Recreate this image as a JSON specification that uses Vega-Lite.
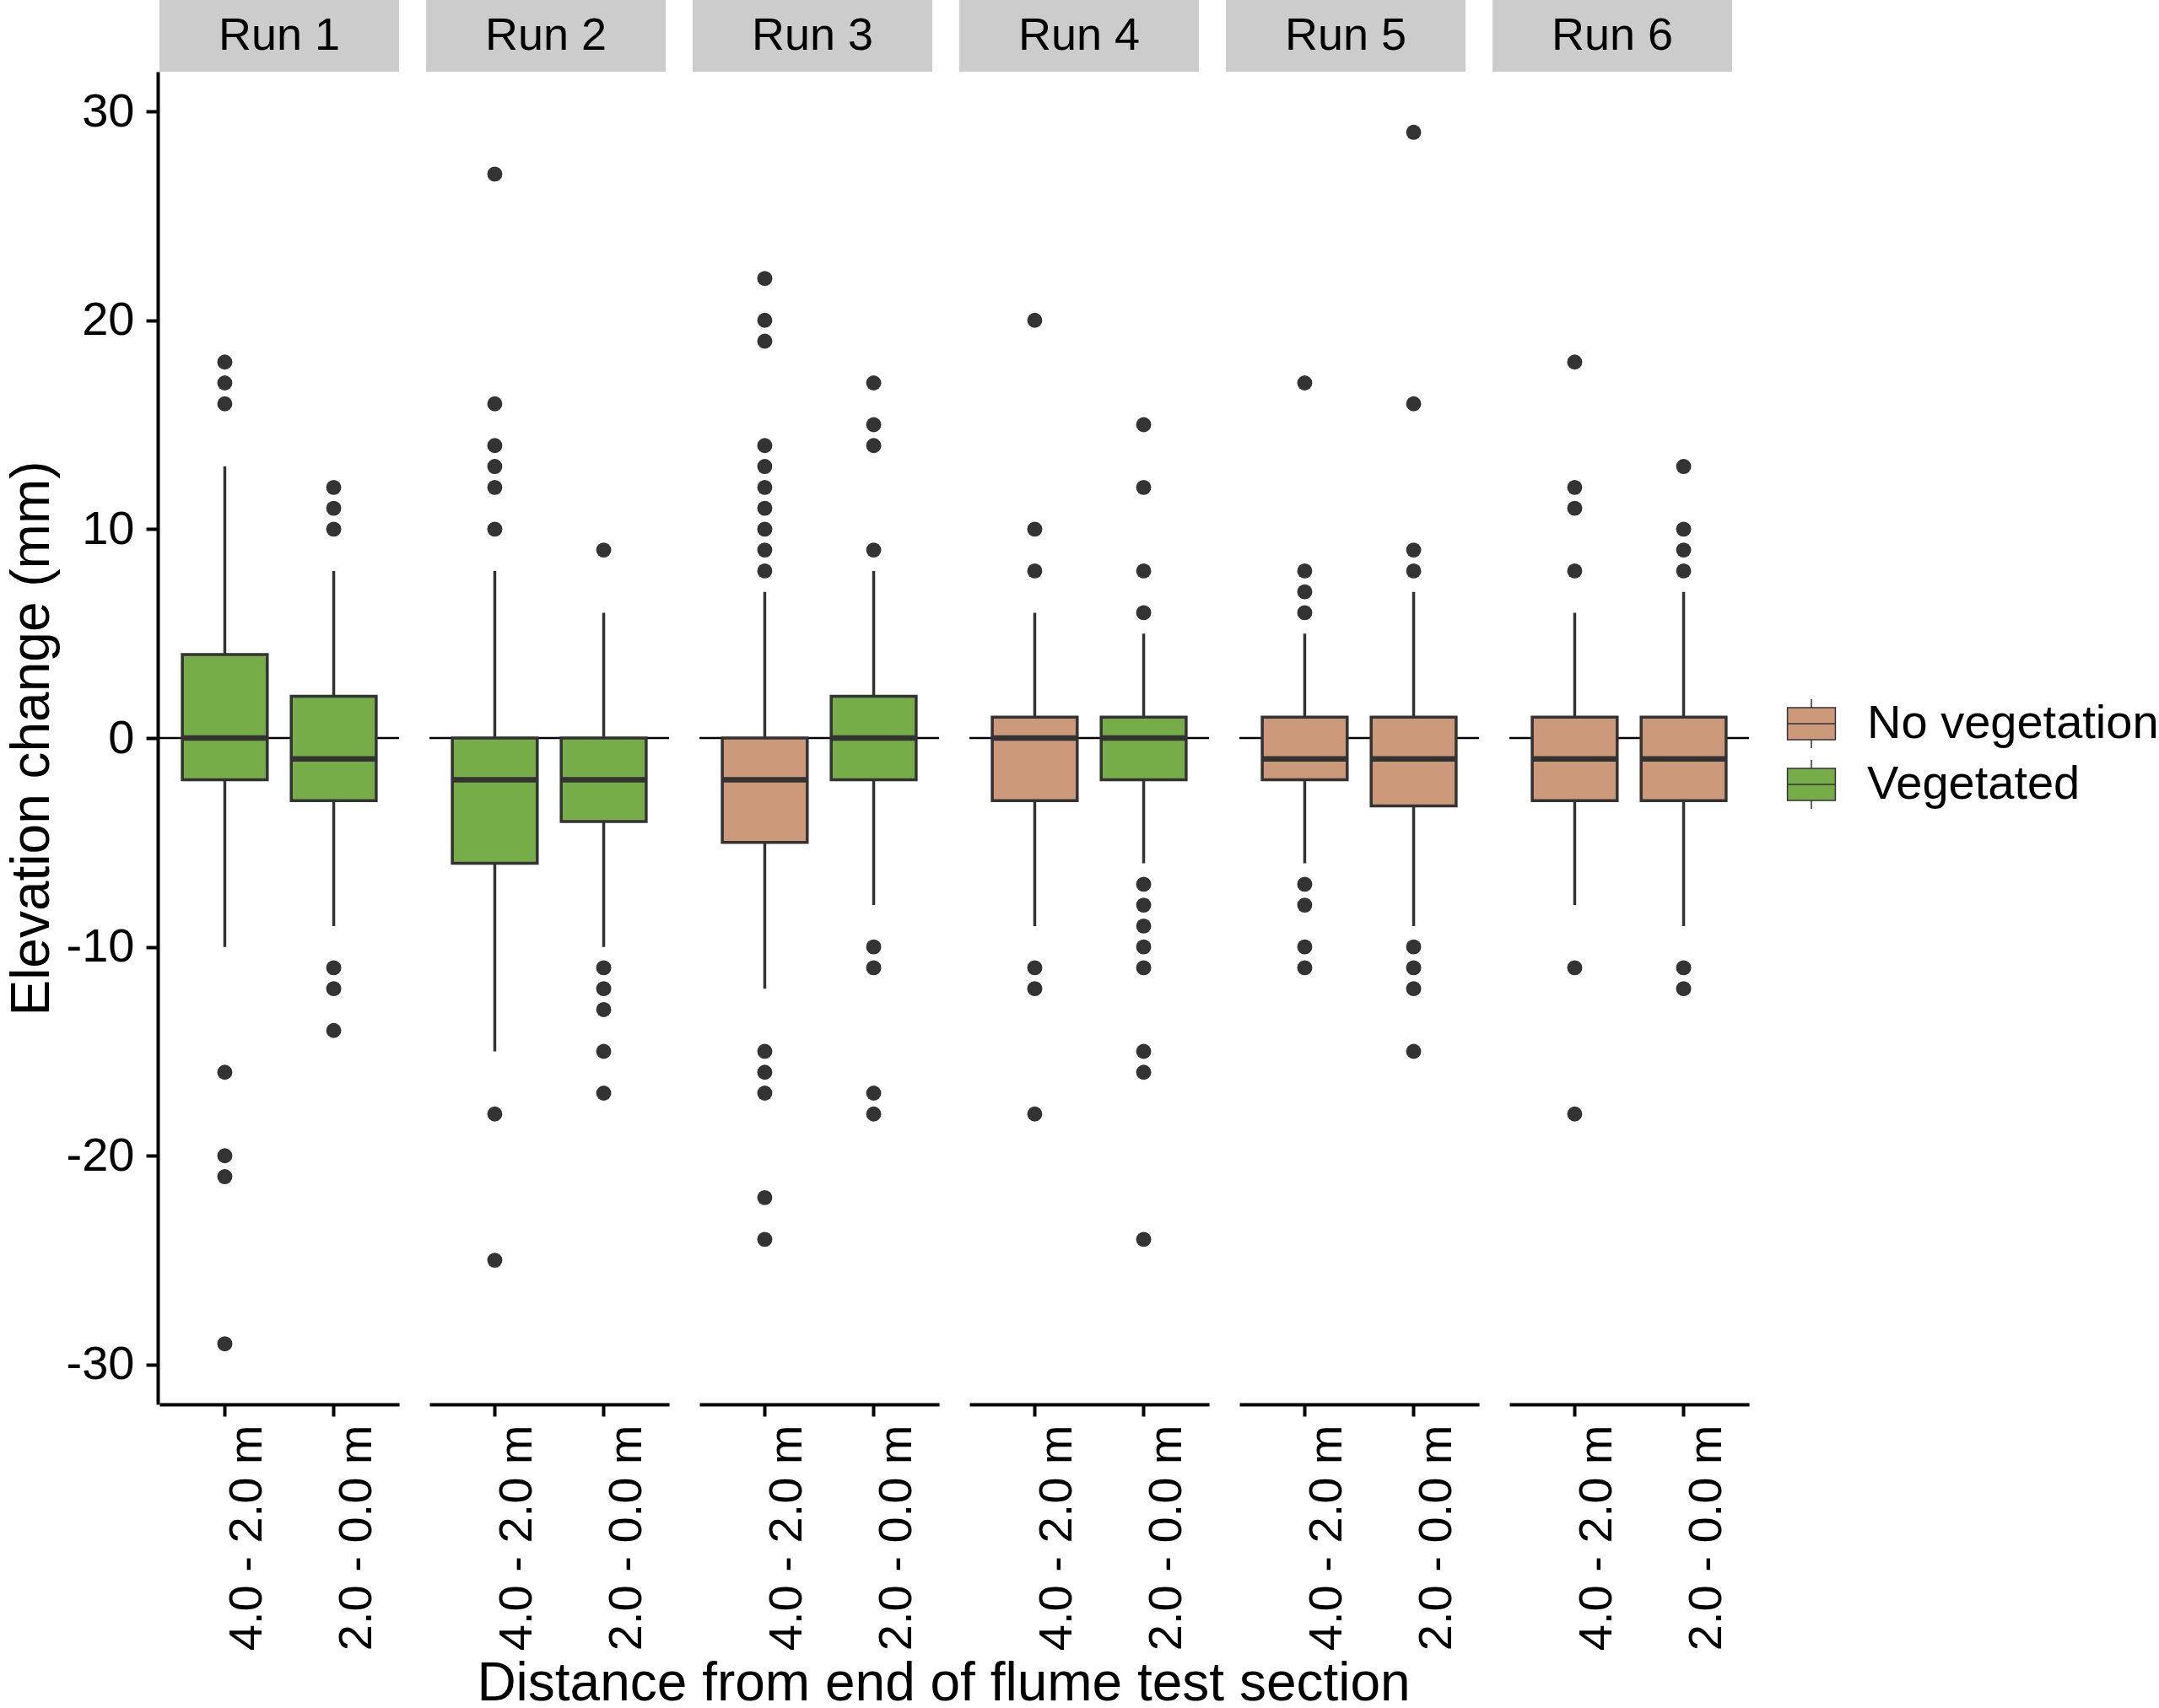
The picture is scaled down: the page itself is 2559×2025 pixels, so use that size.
{
  "$schema": "https://vega.github.io/schema/vega-lite/v6.json",
  "description": "Elevation change by run and distance from end of flume test section",
  "background": "white",
  "padding": {"left": 6, "top": 0, "right": 0, "bottom": 0},
  "config": {
    "font": "Liberation Sans",
    "view": {"stroke": null},
    "axis": {
      "grid": false,
      "domainColor": "black",
      "domainWidth": 4,
      "tickColor": "black",
      "tickWidth": 4,
      "tickSize": 14,
      "labelFontSize": 56,
      "labelColor": "black",
      "labelPadding": 14,
      "labelLimit": 500,
      "titleFontSize": 64,
      "titleFontWeight": "normal",
      "titleColor": "black"
    }
  },
  "datasets": {
    "runs": [
      {"run": "Run 1"}, {"run": "Run 2"}, {"run": "Run 3"},
      {"run": "Run 4"}, {"run": "Run 5"}, {"run": "Run 6"}
    ],
    "boxes": [
      {"run": "Run 1", "pos": "4.0 - 2.0 m", "veg": "Vegetated", "lo": -10, "q1": -2, "med": 0, "q3": 4, "hi": 13},
      {"run": "Run 1", "pos": "2.0 - 0.0 m", "veg": "Vegetated", "lo": -9, "q1": -3, "med": -1, "q3": 2, "hi": 8},
      {"run": "Run 2", "pos": "4.0 - 2.0 m", "veg": "Vegetated", "lo": -15, "q1": -6, "med": -2, "q3": 0, "hi": 8},
      {"run": "Run 2", "pos": "2.0 - 0.0 m", "veg": "Vegetated", "lo": -10, "q1": -4, "med": -2, "q3": 0, "hi": 6},
      {"run": "Run 3", "pos": "4.0 - 2.0 m", "veg": "No vegetation", "lo": -12, "q1": -5, "med": -2, "q3": 0, "hi": 7},
      {"run": "Run 3", "pos": "2.0 - 0.0 m", "veg": "Vegetated", "lo": -8, "q1": -2, "med": 0, "q3": 2, "hi": 8},
      {"run": "Run 4", "pos": "4.0 - 2.0 m", "veg": "No vegetation", "lo": -9, "q1": -3, "med": 0, "q3": 1, "hi": 6},
      {"run": "Run 4", "pos": "2.0 - 0.0 m", "veg": "Vegetated", "lo": -6, "q1": -2, "med": 0, "q3": 1, "hi": 5},
      {"run": "Run 5", "pos": "4.0 - 2.0 m", "veg": "No vegetation", "lo": -6, "q1": -2, "med": -1, "q3": 1, "hi": 5},
      {"run": "Run 5", "pos": "2.0 - 0.0 m", "veg": "No vegetation", "lo": -9, "q1": -3.25, "med": -1, "q3": 1, "hi": 7},
      {"run": "Run 6", "pos": "4.0 - 2.0 m", "veg": "No vegetation", "lo": -8, "q1": -3, "med": -1, "q3": 1, "hi": 6},
      {"run": "Run 6", "pos": "2.0 - 0.0 m", "veg": "No vegetation", "lo": -9, "q1": -3, "med": -1, "q3": 1, "hi": 7},

      {"run": "Run 1", "pos": "4.0 - 2.0 m", "out": 18},
      {"run": "Run 1", "pos": "4.0 - 2.0 m", "out": 17},
      {"run": "Run 1", "pos": "4.0 - 2.0 m", "out": 16},
      {"run": "Run 1", "pos": "4.0 - 2.0 m", "out": -16},
      {"run": "Run 1", "pos": "4.0 - 2.0 m", "out": -20},
      {"run": "Run 1", "pos": "4.0 - 2.0 m", "out": -21},
      {"run": "Run 1", "pos": "4.0 - 2.0 m", "out": -29},
      {"run": "Run 1", "pos": "2.0 - 0.0 m", "out": 12},
      {"run": "Run 1", "pos": "2.0 - 0.0 m", "out": 11},
      {"run": "Run 1", "pos": "2.0 - 0.0 m", "out": 10},
      {"run": "Run 1", "pos": "2.0 - 0.0 m", "out": -11},
      {"run": "Run 1", "pos": "2.0 - 0.0 m", "out": -12},
      {"run": "Run 1", "pos": "2.0 - 0.0 m", "out": -14},

      {"run": "Run 2", "pos": "4.0 - 2.0 m", "out": 27},
      {"run": "Run 2", "pos": "4.0 - 2.0 m", "out": 16},
      {"run": "Run 2", "pos": "4.0 - 2.0 m", "out": 14},
      {"run": "Run 2", "pos": "4.0 - 2.0 m", "out": 13},
      {"run": "Run 2", "pos": "4.0 - 2.0 m", "out": 12},
      {"run": "Run 2", "pos": "4.0 - 2.0 m", "out": 10},
      {"run": "Run 2", "pos": "4.0 - 2.0 m", "out": -18},
      {"run": "Run 2", "pos": "4.0 - 2.0 m", "out": -25},
      {"run": "Run 2", "pos": "2.0 - 0.0 m", "out": 9},
      {"run": "Run 2", "pos": "2.0 - 0.0 m", "out": -11},
      {"run": "Run 2", "pos": "2.0 - 0.0 m", "out": -12},
      {"run": "Run 2", "pos": "2.0 - 0.0 m", "out": -13},
      {"run": "Run 2", "pos": "2.0 - 0.0 m", "out": -15},
      {"run": "Run 2", "pos": "2.0 - 0.0 m", "out": -17},

      {"run": "Run 3", "pos": "4.0 - 2.0 m", "out": 22},
      {"run": "Run 3", "pos": "4.0 - 2.0 m", "out": 20},
      {"run": "Run 3", "pos": "4.0 - 2.0 m", "out": 19},
      {"run": "Run 3", "pos": "4.0 - 2.0 m", "out": 14},
      {"run": "Run 3", "pos": "4.0 - 2.0 m", "out": 13},
      {"run": "Run 3", "pos": "4.0 - 2.0 m", "out": 12},
      {"run": "Run 3", "pos": "4.0 - 2.0 m", "out": 11},
      {"run": "Run 3", "pos": "4.0 - 2.0 m", "out": 10},
      {"run": "Run 3", "pos": "4.0 - 2.0 m", "out": 9},
      {"run": "Run 3", "pos": "4.0 - 2.0 m", "out": 8},
      {"run": "Run 3", "pos": "4.0 - 2.0 m", "out": -15},
      {"run": "Run 3", "pos": "4.0 - 2.0 m", "out": -16},
      {"run": "Run 3", "pos": "4.0 - 2.0 m", "out": -17},
      {"run": "Run 3", "pos": "4.0 - 2.0 m", "out": -22},
      {"run": "Run 3", "pos": "4.0 - 2.0 m", "out": -24},
      {"run": "Run 3", "pos": "2.0 - 0.0 m", "out": 17},
      {"run": "Run 3", "pos": "2.0 - 0.0 m", "out": 15},
      {"run": "Run 3", "pos": "2.0 - 0.0 m", "out": 14},
      {"run": "Run 3", "pos": "2.0 - 0.0 m", "out": 9},
      {"run": "Run 3", "pos": "2.0 - 0.0 m", "out": -10},
      {"run": "Run 3", "pos": "2.0 - 0.0 m", "out": -11},
      {"run": "Run 3", "pos": "2.0 - 0.0 m", "out": -17},
      {"run": "Run 3", "pos": "2.0 - 0.0 m", "out": -18},

      {"run": "Run 4", "pos": "4.0 - 2.0 m", "out": 20},
      {"run": "Run 4", "pos": "4.0 - 2.0 m", "out": 10},
      {"run": "Run 4", "pos": "4.0 - 2.0 m", "out": 8},
      {"run": "Run 4", "pos": "4.0 - 2.0 m", "out": -11},
      {"run": "Run 4", "pos": "4.0 - 2.0 m", "out": -12},
      {"run": "Run 4", "pos": "4.0 - 2.0 m", "out": -18},
      {"run": "Run 4", "pos": "2.0 - 0.0 m", "out": 15},
      {"run": "Run 4", "pos": "2.0 - 0.0 m", "out": 12},
      {"run": "Run 4", "pos": "2.0 - 0.0 m", "out": 8},
      {"run": "Run 4", "pos": "2.0 - 0.0 m", "out": 6},
      {"run": "Run 4", "pos": "2.0 - 0.0 m", "out": -7},
      {"run": "Run 4", "pos": "2.0 - 0.0 m", "out": -8},
      {"run": "Run 4", "pos": "2.0 - 0.0 m", "out": -9},
      {"run": "Run 4", "pos": "2.0 - 0.0 m", "out": -10},
      {"run": "Run 4", "pos": "2.0 - 0.0 m", "out": -11},
      {"run": "Run 4", "pos": "2.0 - 0.0 m", "out": -15},
      {"run": "Run 4", "pos": "2.0 - 0.0 m", "out": -16},
      {"run": "Run 4", "pos": "2.0 - 0.0 m", "out": -24},

      {"run": "Run 5", "pos": "4.0 - 2.0 m", "out": 17},
      {"run": "Run 5", "pos": "4.0 - 2.0 m", "out": 8},
      {"run": "Run 5", "pos": "4.0 - 2.0 m", "out": 7},
      {"run": "Run 5", "pos": "4.0 - 2.0 m", "out": 6},
      {"run": "Run 5", "pos": "4.0 - 2.0 m", "out": -7},
      {"run": "Run 5", "pos": "4.0 - 2.0 m", "out": -8},
      {"run": "Run 5", "pos": "4.0 - 2.0 m", "out": -10},
      {"run": "Run 5", "pos": "4.0 - 2.0 m", "out": -11},
      {"run": "Run 5", "pos": "2.0 - 0.0 m", "out": 29},
      {"run": "Run 5", "pos": "2.0 - 0.0 m", "out": 16},
      {"run": "Run 5", "pos": "2.0 - 0.0 m", "out": 9},
      {"run": "Run 5", "pos": "2.0 - 0.0 m", "out": 8},
      {"run": "Run 5", "pos": "2.0 - 0.0 m", "out": -10},
      {"run": "Run 5", "pos": "2.0 - 0.0 m", "out": -11},
      {"run": "Run 5", "pos": "2.0 - 0.0 m", "out": -12},
      {"run": "Run 5", "pos": "2.0 - 0.0 m", "out": -15},

      {"run": "Run 6", "pos": "4.0 - 2.0 m", "out": 18},
      {"run": "Run 6", "pos": "4.0 - 2.0 m", "out": 12},
      {"run": "Run 6", "pos": "4.0 - 2.0 m", "out": 11},
      {"run": "Run 6", "pos": "4.0 - 2.0 m", "out": 8},
      {"run": "Run 6", "pos": "4.0 - 2.0 m", "out": -11},
      {"run": "Run 6", "pos": "4.0 - 2.0 m", "out": -18},
      {"run": "Run 6", "pos": "2.0 - 0.0 m", "out": 13},
      {"run": "Run 6", "pos": "2.0 - 0.0 m", "out": 10},
      {"run": "Run 6", "pos": "2.0 - 0.0 m", "out": 9},
      {"run": "Run 6", "pos": "2.0 - 0.0 m", "out": 8},
      {"run": "Run 6", "pos": "2.0 - 0.0 m", "out": -11},
      {"run": "Run 6", "pos": "2.0 - 0.0 m", "out": -12}
    ]
  },
  "title": {
    "text": "Distance from end of flume test section",
    "orient": "bottom",
    "anchor": "middle",
    "fontSize": 64,
    "fontWeight": "normal",
    "color": "black",
    "offset": 8,
    "dx": -164
  },
  "spacing": 0,
  "vconcat": [
    {
      "data": {"name": "runs"},
      "facet": {"column": {"field": "run", "type": "nominal", "header": null}},
      "spacing": 32,
      "spec": {
        "width": 284,
        "height": 85,
        "view": {"fill": "#CCCCCC", "stroke": null},
        "mark": {"type": "text", "fontSize": 54, "color": "black"},
        "encoding": {"text": {"field": "run"}}
      }
    },
    {
      "data": {"name": "boxes"},
      "facet": {"column": {"field": "run", "type": "nominal", "header": null}},
      "spacing": 32,
      "spec": {
        "width": 284,
        "height": 1580,
        "layer": [
          {
            "transform": [{"filter": "isValid(datum.q1) && datum.pos == '4.0 - 2.0 m'"}],
            "mark": {"type": "rule", "color": "black", "strokeWidth": 2.5},
            "encoding": {
              "y": {"datum": 0, "type": "quantitative", "title": "Elevation change (mm)"}
            }
          },
          {
            "transform": [{"filter": "isValid(datum.q1)"}],
            "mark": {"type": "rule", "color": "#333333", "strokeWidth": 3.5},
            "encoding": {
              "x": {"field": "pos", "type": "nominal", "sort": ["4.0 - 2.0 m", "2.0 - 0.0 m"], "title": null},
              "y": {"field": "lo", "type": "quantitative", "title": "Elevation change (mm)"},
              "y2": {"field": "hi"}
            }
          },
          {
            "transform": [{"filter": "isValid(datum.q1)"}],
            "mark": {"type": "bar", "stroke": "#333333", "strokeWidth": 3.5},
            "encoding": {
              "x": {"field": "pos", "type": "nominal", "sort": ["4.0 - 2.0 m", "2.0 - 0.0 m"], "title": null},
              "y": {"field": "q1", "type": "quantitative", "title": "Elevation change (mm)"},
              "y2": {"field": "q3"},
              "fill": {
                "field": "veg",
                "type": "nominal",
                "scale": {"domain": ["No vegetation", "Vegetated"], "range": ["#CC997A", "#77AD48"]},
                "legend": {
                  "title": null,
                  "orient": "none",
                  "legendX": 1928,
                  "legendY": 828,
                  "symbolType": "M-0.98,-0.655H0.98V0.655H-0.98Z M-0.98,0H0.98 M0,-0.655V-1 M0,0.655V1",
                  "symbolSize": 3364,
                  "symbolOpacity": 1,
                  "labelFontSize": 56,
                  "labelColor": "black",
                  "labelOffset": 36,
                  "rowPadding": 8,
                  "labelLimit": 500,
                  "encode": {
                    "symbols": {"update": {"stroke": {"value": "#333333"}, "strokeWidth": {"value": 5}}}
                  }
                }
              }
            }
          },
          {
            "transform": [{"filter": "isValid(datum.q1)"}],
            "mark": {"type": "tick", "color": "#333333", "thickness": 6.5, "size": 101, "opacity": 1},
            "encoding": {
              "x": {"field": "pos", "type": "nominal", "sort": ["4.0 - 2.0 m", "2.0 - 0.0 m"], "title": null},
              "y": {"field": "med", "type": "quantitative", "title": "Elevation change (mm)"}
            }
          },
          {
            "transform": [{"filter": "isValid(datum.out)"}],
            "mark": {"type": "circle", "color": "#333333", "size": 320, "opacity": 1},
            "encoding": {
              "x": {
                "field": "pos",
                "type": "nominal",
                "sort": ["4.0 - 2.0 m", "2.0 - 0.0 m"],
                "title": null,
                "scale": {"paddingInner": 0.22, "paddingOuter": 0.21},
                "axis": {"labelAngle": 270, "labelBaseline": "top", "labelPadding": 10, "title": null}
              },
              "y": {
                "field": "out",
                "type": "quantitative",
                "title": "Elevation change (mm)",
                "scale": {"domain": [-31.9, 31.9], "nice": false, "zero": false},
                "axis": {
                  "values": [-30, -20, -10, 0, 10, 20, 30],
                  "labelExpr": "datum.value + ''",
                  "titlePadding": 8
                }
              }
            }
          }
        ]
      }
    }
  ]
}
